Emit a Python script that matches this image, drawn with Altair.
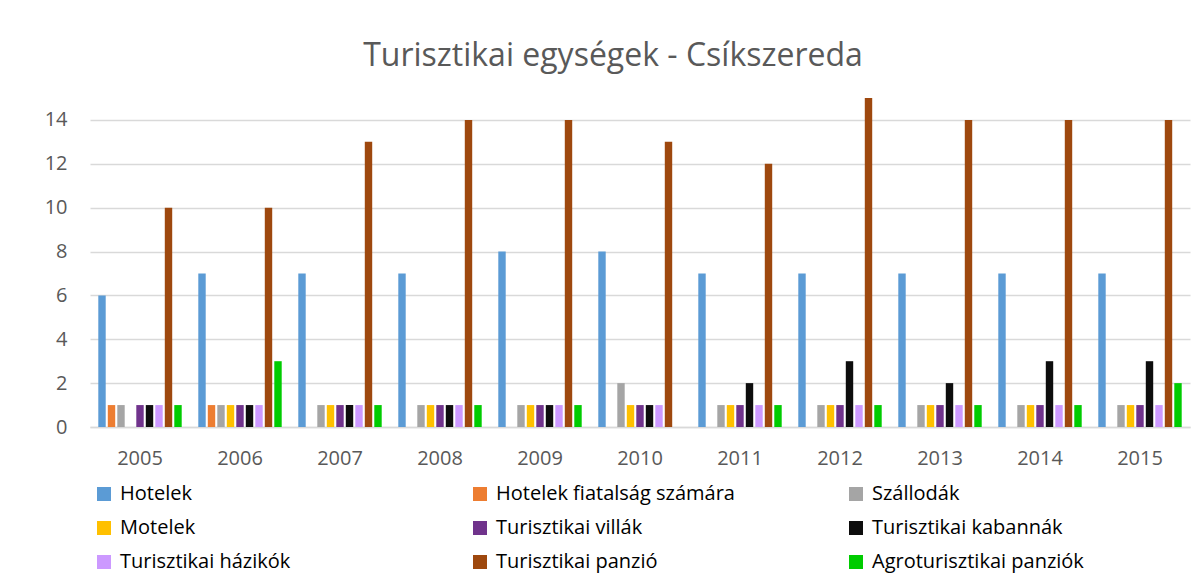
import altair as alt
import pandas as pd

years = ["2005", "2006", "2007", "2008", "2009", "2010", "2011", "2012", "2013", "2014", "2015"]
series = [
    "Hotelek",
    "Hotelek fiatalság számára",
    "Szállodák",
    "Motelek",
    "Turisztikai villák",
    "Turisztikai kabannák",
    "Turisztikai házikók",
    "Turisztikai panzió",
    "Agroturisztikai panziók",
]
colors = ["#5B9BD5", "#ED7D31", "#A5A5A5", "#FFC000", "#70338C", "#0D0D0D", "#CC99FF", "#9E480E", "#00CC00"]

hotelek = [6, 7, 7, 7, 8, 8, 7, 7, 7, 7, 7]
hotelek_fiatal = [1, 1, 0, 0, 0, 0, 0, 0, 0, 0, 0]
szallodak = [1, 1, 1, 1, 1, 2, 1, 1, 1, 1, 1]
motelek = [0, 1, 1, 1, 1, 1, 1, 1, 1, 1, 1]
villak = [1, 1, 1, 1, 1, 1, 1, 1, 1, 1, 1]
kabannak = [1, 1, 1, 1, 1, 1, 2, 3, 2, 3, 3]
hazikok = [1, 1, 1, 1, 1, 1, 1, 1, 1, 1, 1]
panzio = [10, 10, 13, 14, 14, 13, 12, 15, 14, 14, 14]
agro = [1, 3, 1, 1, 1, 0, 1, 1, 1, 1, 2]

values = [hotelek, hotelek_fiatal, szallodak, motelek, villak, kabannak, hazikok, panzio, agro]
y_ticks = [0, 2, 4, 6, 8, 10, 12, 14]

rows = []
for s, vals in zip(series, values):
    for yr, v in zip(years, vals):
        rows.append({"Év": yr, "Típus": s, "Érték": v})
df = pd.DataFrame(rows)

FONT = "Open Sans"
GREY = "#595959"

chart = (
    alt.Chart(df)
    .mark_bar()
    .encode(
        x=alt.X(
            "Év:N",
            sort=years,
            scale=alt.Scale(paddingInner=0.145, paddingOuter=0.0725),
            axis=alt.Axis(
                title=None,
                labelAngle=0,
                labelFontSize=20,
                labelColor=GREY,
                labelFont=FONT,
                ticks=False,
                tickSize=0,
                labelPadding=21,
                domainColor="#D9D9D9",
                domainWidth=1.5,
                grid=False,
            ),
        ),
        xOffset=alt.XOffset(
            "Típus:N",
            sort=series,
            scale=alt.Scale(paddingInner=0.22, paddingOuter=0.11),
        ),
        y=alt.Y(
            "Érték:Q",
            scale=alt.Scale(domain=[0, 15], nice=False),
            axis=alt.Axis(
                title=None,
                values=y_ticks,
                labelFontSize=20,
                labelColor=GREY,
                labelFont=FONT,
                ticks=False,
                tickSize=0,
                domain=False,
                labelPadding=23,
                gridColor="#D9D9D9",
                gridWidth=1.5,
            ),
        ),
        color=alt.Color(
            "Típus:N",
            sort=series,
            scale=alt.Scale(domain=series, range=colors),
            legend=alt.Legend(
                title=None,
                orient="none",
                legendX=4,
                legendY=386,
                columns=3,
                direction="horizontal",
                gridAlign="all",
                columnPadding=111,
                rowPadding=14,
                symbolType="square",
                symbolSize=196,
                symbolStrokeWidth=0,
                labelFontSize=20,
                labelFont=FONT,
                labelColor="#000000",
                labelOffset=6,
                labelLimit=400,
            ),
        ),
    )
    .properties(
        width=1100,
        height=329,
        autosize=alt.AutoSizeParams(type="none"),
        padding={"left": 82, "top": 90, "right": 2, "bottom": 146},
        title=alt.TitleParams(
            "Turisztikai egységek - Csíkszereda",
            fontSize=32,
            font=FONT,
            fontWeight="normal",
            color=GREY,
            anchor="middle",
            dx=-27,
            offset=25,
        ),
    )
    .configure_view(stroke=None)
)

chart.save("out.html", embed_options={"renderer": "svg", "actions": False})
